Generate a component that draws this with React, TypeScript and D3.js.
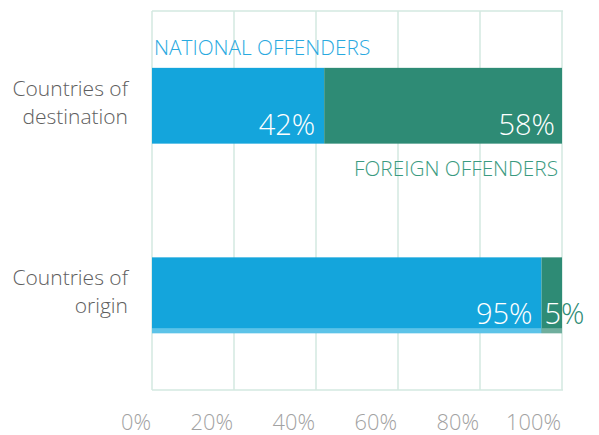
import React from "react";
import * as d3 from "d3";

const categories = ["Countries of destination", "Countries of origin"];
const categoryLines = [["Countries of", "destination"], ["Countries of", "origin"]];
const nationalShare = [42, 95];
const foreignShare = [58, 5];
const tickValues = [0, 20, 40, 60, 80, 100];

const W = 599;
const H = 435;
const M = { top: 11, right: 37, bottom: 45, left: 152 };

const BLUE = "#14a5dc";
const GREEN = "#2e8b75";
const BLUE_LIGHT = "#5cc3e8";
const GREEN_LIGHT = "#6fae9d";
const GRID = "#d3e8e1";
const FONT = "'Open Sans', 'DejaVu Sans', sans-serif";

export default function App() {
  const x = d3.scaleLinear().domain([0, 100]).range([M.left, W - M.right]);
  const y = d3
    .scaleBand<string>()
    .domain(categories)
    .range([M.top, H - M.bottom])
    .paddingInner(0.6)
    .paddingOuter(0.3);
  const bw = y.bandwidth();

  return (
    <div style={{ position: "fixed", left: 0, top: 0 }}>
      <svg width={W} height={H} style={{ display: "block", background: "#fff" }} fontFamily={FONT} fontWeight={300}>
        <defs>
          {categories.map((c, i) => (
            <clipPath id={`fclip${i}`} key={c}>
              <rect
                x={x(nationalShare[i])}
                y={y(c)!}
                width={x(nationalShare[i] + foreignShare[i]) - x(nationalShare[i])}
                height={bw}
              />
            </clipPath>
          ))}
        </defs>
        {/* grid */}
        {tickValues.map((t) => (
          <line key={t} x1={x(t)} x2={x(t)} y1={M.top} y2={H - M.bottom} stroke={GRID} strokeWidth={1.5} />
        ))}
        <line x1={x(0)} x2={x(100) + 1} y1={M.top} y2={M.top} stroke={GRID} strokeWidth={1.5} />
        <line x1={x(0)} x2={x(100) + 1} y1={H - M.bottom} y2={H - M.bottom} stroke={GRID} strokeWidth={1.5} />

        {/* bars */}
        {categories.map((c, i) => {
          const y0 = y(c)!;
          const xs = x(0);
          const xn = x(nationalShare[i]);
          const xf = x(nationalShare[i] + foreignShare[i]);
          return (
            <g key={c}>
              <rect x={xs} y={y0} width={xn - xs} height={bw} fill={BLUE} />
              <rect x={xn} y={y0} width={xf - xn} height={bw} fill={GREEN} />
              {i === 1 && (
                <>
                  <rect x={xs} y={y0 + bw - 5} width={xn - xs} height={5} fill={BLUE_LIGHT} />
                  <rect x={xn} y={y0 + bw - 5} width={xf - xn} height={5} fill={GREEN_LIGHT} />
                </>
              )}
            </g>
          );
        })}

        {/* value labels */}
        {categories.map((c, i) => {
          const y0 = y(c)!;
          const base = y0 + bw - 9;
          const xn = x(nationalShare[i]);
          const xf = x(nationalShare[i] + foreignShare[i]);
          const narrow = xf - xn < 60;
          return (
            <g key={c} fontSize={29}>
              <text x={xn - 9} y={base} textAnchor="end" fill="#fff">
                {nationalShare[i]}%
              </text>
              {narrow ? (
                <>
                  <text x={xn + 3} y={base} fill={GREEN}>
                    {foreignShare[i]}%
                  </text>
                  <text x={xn + 3} y={base} fill="#fff" clipPath={`url(#fclip${i})`}>
                    {foreignShare[i]}%
                  </text>
                </>
              ) : (
                <text x={xf - 7} y={base} textAnchor="end" fill="#fff">
                  {foreignShare[i]}%
                </text>
              )}
            </g>
          );
        })}

        {/* series labels */}
        <text x={x(0) + 2} y={y(categories[0])! - 13} fill="#29a9df" fontSize={20.8}>
          NATIONAL OFFENDERS
        </text>
        <text x={x(100) - 4} y={y(categories[0])! + bw + 32} fill="#3a9a80" fontSize={20.8} textAnchor="end">
          FOREIGN OFFENDERS
        </text>

        {/* category labels */}
        {categories.map((c, i) => {
          const yc = y(c)! + bw / 2;
          return (
            <text key={c} x={M.left - 24} textAnchor="end" fill="#5e5e5e" fontSize={21}>
              {categoryLines[i].map((line, j) => (
                <tspan key={j} x={M.left - 24} y={yc - 10 + j * 28}>
                  {line}
                </tspan>
              ))}
            </text>
          );
        })}

        {/* x tick labels */}
        {tickValues.map((t) => (
          <text key={t} x={x(t) - 1} y={429.5} textAnchor="end" fill="#a2a2a2" fontSize={21.8}>
            {t}%
          </text>
        ))}
      </svg>
    </div>
  );
}
